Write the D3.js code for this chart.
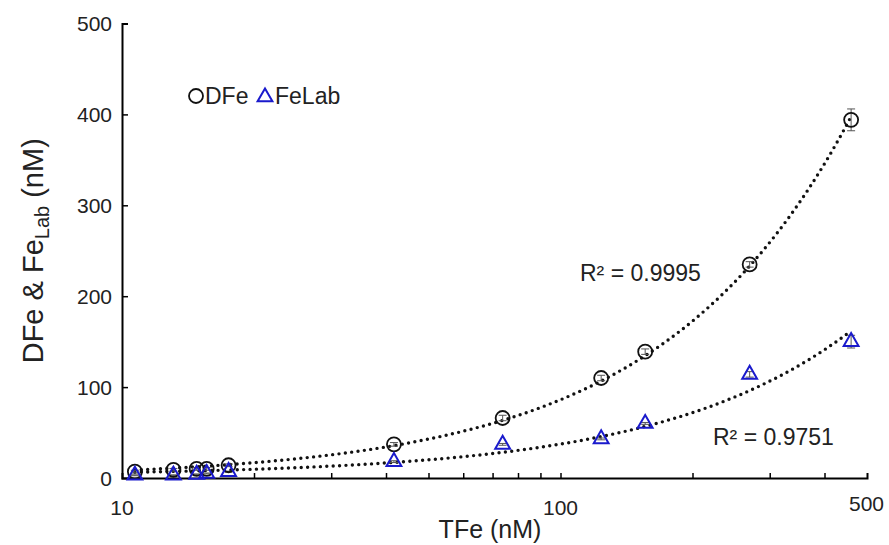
<!DOCTYPE html>
<html>
<head>
<meta charset="utf-8">
<script src="https://cdn.jsdelivr.net/npm/d3@7"></script>
<style>
  body { margin: 0; background: #fff; }
  text { font-family: "Liberation Sans", Arial, sans-serif; fill: #222; }
</style>
</head>
<body>
<div id="chart"></div>
<script>
// values
const tfe = [10.7, 13.1, 14.8, 15.6, 17.5, 41.7, 73.8, 123.8, 156, 270, 460];
const dfe = [7, 9, 10, 10, 14, 37, 66, 110, 139, 235, 394];
const dfeErr = [1.5, 1.5, 1.5, 1.5, 1.5, 2, 3, 3, 3, 3, 12];
const feLab = [3, 3, 4, 5, 7, 18, 37, 43, 60, 114, 150];
const feLabErr = [0.5, 0.5, 0.5, 0.5, 0.5, 1, 1, 1, 1, 3, 7];
const xTicks = [10, 100, 500];
const yTicks = [0, 100, 200, 300, 400, 500];
const r2Labels = ["R² = 0.9995", "R² = 0.9751"];

const c = { width: 889, height: 545, left: 122, right: 22, top: 23.5, bottom: 67 };

const svg = d3.select("#chart").append("svg")
  .attr("width", c.width)
  .attr("height", c.height);

const x = d3.scaleLog().domain([10, 500]).range([c.left, c.width - c.right]);
const y = d3.scaleLinear().domain([0, 500]).range([c.height - c.bottom, c.top]);

// axes
const minor = d3.range(20, 100, 10).concat([100, 200, 300, 400]);
const xAxis = svg.append("g")
  .attr("transform", `translate(0,${y(0)})`)
  .call(d3.axisBottom(x).tickValues(minor).tickSize(-5).tickFormat(""));
xAxis.select(".domain").attr("stroke-width", 2);
xAxis.selectAll(".tick line").attr("stroke-width", 1.5);

const yAxis = svg.append("g")
  .attr("transform", `translate(${c.left},0)`)
  .call(d3.axisLeft(y).tickValues(yTicks.slice(1)).tickSize(-6).tickFormat(""));
yAxis.select(".domain").attr("stroke-width", 2);
yAxis.selectAll(".tick line").attr("stroke-width", 1.5);

svg.selectAll(".ylab").data(yTicks).enter().append("text")
  .attr("x", 112).attr("y", d => y(d) + 7.5)
  .attr("text-anchor", "end").attr("font-size", 21)
  .text(d => d);

// the last label is pulled left so it stays inside the window
svg.selectAll(".xlab").data(xTicks).enter().append("text")
  .attr("x", d => d === 500 ? 884 : x(d))
  .attr("y", d => d === 500 ? 511 : 515)
  .attr("text-anchor", d => d === 500 ? "end" : "middle")
  .attr("font-size", 21)
  .text(d => d);

svg.append("text")
  .attr("x", 490).attr("y", 538)
  .attr("text-anchor", "middle").attr("font-size", 25)
  .text("TFe (nM)");

const yt = svg.append("text")
  .attr("transform", `translate(43,${(y(0) + y(500)) / 2}) rotate(-90)`)
  .attr("text-anchor", "middle").attr("font-size", 29);
yt.append("tspan").text("DFe & Fe");
yt.append("tspan").attr("font-size", 20).attr("dy", 6).text("Lab");
yt.append("tspan").attr("dy", -6).text(" (nM)");

// linear trendlines (least squares of the data above)
function fit(xs, ys) {
  const mx = d3.mean(xs), my = d3.mean(ys);
  let sxy = 0, sxx = 0;
  xs.forEach((v, i) => { sxy += (v - mx) * (ys[i] - my); sxx += (v - mx) ** 2; });
  const a = sxy / sxx;
  return { a, b: my - a * mx };
}
const line = d3.line().x(d => x(d[0])).y(d => y(d[1]));
[dfe, feLab].forEach(ys => {
  const f = fit(tfe, ys);
  const lo = d3.min(tfe), hi = d3.max(tfe);
  const pts = d3.range(0, 201).map(i => {
    const xv = lo * Math.pow(hi / lo, i / 200);
    return [xv, f.a * xv + f.b];
  });
  svg.append("path").datum(pts)
    .attr("d", line)
    .attr("fill", "none")
    .attr("stroke", "#111")
    .attr("stroke-width", 3.4)
    .attr("stroke-linecap", "round")
    .attr("stroke-dasharray", "0,6.4");
});

// error bars
function errorBars(ys, es, color) {
  const g = svg.append("g").attr("stroke", color).attr("stroke-width", 1);
  tfe.forEach((xv, i) => {
    const px = x(xv);
    g.append("line").attr("x1", px).attr("x2", px).attr("y1", y(ys[i] - es[i])).attr("y2", y(ys[i] + es[i]));
    [ys[i] - es[i], ys[i] + es[i]].forEach(v => {
      g.append("line").attr("x1", px - 4).attr("x2", px + 4).attr("y1", y(v)).attr("y2", y(v));
    });
  });
}
errorBars(dfe, dfeErr, "#555");
errorBars(feLab, feLabErr, "#555");

// markers
const tri = d3.symbol().type(d3.symbolTriangle).size(95);
svg.append("g").selectAll("circle").data(tfe).enter().append("circle")
  .attr("cx", d => x(d)).attr("cy", (d, i) => y(dfe[i]))
  .attr("r", 7).attr("fill", "none").attr("stroke", "#111").attr("stroke-width", 1.8);
svg.append("g").selectAll("path").data(tfe).enter().append("path")
  .attr("d", tri)
  .attr("transform", (d, i) => `translate(${x(d)},${y(feLab[i])})`)
  .attr("fill", "none").attr("stroke", "#1a1acc").attr("stroke-width", 2);

// R² labels
svg.append("text").attr("x", 580).attr("y", 281).attr("font-size", 23).text(r2Labels[0]);
svg.append("text").attr("x", 713).attr("y", 445).attr("font-size", 23).text(r2Labels[1]);

// legend
svg.append("circle").attr("cx", 196).attr("cy", 96).attr("r", 7)
  .attr("fill", "none").attr("stroke", "#111").attr("stroke-width", 1.8);
svg.append("text").attr("x", 205).attr("y", 104).attr("font-size", 23).text("DFe");
svg.append("path").attr("d", tri).attr("transform", "translate(265,97)")
  .attr("fill", "none").attr("stroke", "#1a1acc").attr("stroke-width", 2);
svg.append("text").attr("x", 275).attr("y", 104).attr("font-size", 23).text("FeLab");
</script>
</body>
</html>
